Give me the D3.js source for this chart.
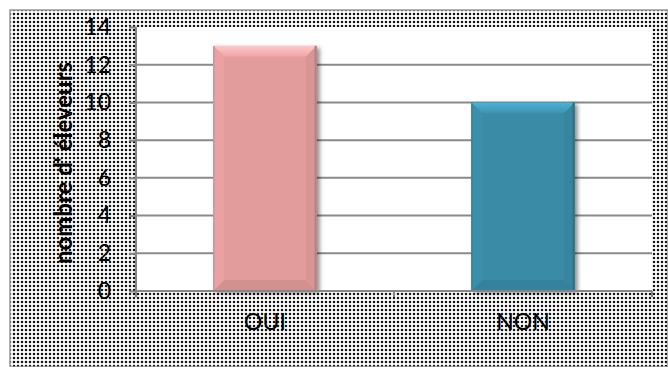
<!DOCTYPE html>
<html>
<head>
<meta charset="utf-8">
<script src="https://cdn.jsdelivr.net/npm/d3@7"></script>
<style>
  body { margin: 0; background: #fff; }
  svg { display: block; }
  text { font-family: Lato, "Liberation Sans", sans-serif; fill: #000; }
</style>
</head>
<body>
<div id="chart"></div>
<script>
// data
var categories = ["OUI", "NON"];
var values = [13, 10];
var barColors = ["#e29c9c", "#3a8ba6"];
var yTicks = [0, 2, 4, 6, 8, 10, 12, 14];
var yTitle = "nombre d' éleveurs";

var W = 668, H = 367;
var plot = { left: 136, top: 27, right: 652, bottom: 291 };

var svg = d3.select("#chart")
    .append("svg")
    .attr("width", W)
    .attr("height", H);

var defs = svg.append("defs");

// dotted background pattern
var pat = defs.append("pattern")
    .attr("id", "dots")
    .attr("patternUnits", "userSpaceOnUse")
    .attr("width", 4)
    .attr("height", 4);
pat.append("rect").attr("width", 4).attr("height", 4).attr("fill", "#fff");
pat.append("rect").attr("x", 0).attr("y", 1).attr("width", 4).attr("height", 2).attr("fill", "#e2e2e2");
pat.append("rect").attr("x", 1).attr("y", 0).attr("width", 2).attr("height", 4).attr("fill", "#e2e2e2");
pat.append("rect").attr("x", 1).attr("y", 1).attr("width", 2).attr("height", 2).attr("fill", "#151515");

var shadow = defs.append("filter")
    .attr("id", "shadow")
    .attr("x", "-20%").attr("y", "-20%")
    .attr("width", "140%").attr("height", "140%");
shadow.append("feDropShadow")
    .attr("dx", 3).attr("dy", 2)
    .attr("stdDeviation", 2)
    .attr("flood-color", "#000")
    .attr("flood-opacity", 0.45);

// chart area
svg.append("rect")
    .attr("x", 10).attr("y", 10)
    .attr("width", W - 10).attr("height", H - 10)
    .attr("fill", "url(#dots)")
    .attr("stroke", "#9a9a9a")
    .attr("stroke-width", 1.5);

svg.append("rect")
    .attr("x", plot.left).attr("y", plot.top)
    .attr("width", plot.right - plot.left)
    .attr("height", plot.bottom - plot.top)
    .attr("fill", "#fff");

// scales
var xScale = d3.scaleBand()
    .domain(categories)
    .range([plot.left, plot.right])
    .paddingInner(0.6)
    .paddingOuter(0.3);

var yScale = d3.scaleLinear()
    .domain([0, 14])
    .range([plot.bottom, plot.top]);

// gridlines
svg.append("g")
    .selectAll("line")
    .data(yTicks.filter(function (d) { return d > 0 && d < 14; }))
    .enter()
    .append("line")
    .attr("x1", plot.left).attr("x2", plot.right)
    .attr("y1", function (d) { return yScale(d); })
    .attr("y2", function (d) { return yScale(d); })
    .attr("stroke", "#8a8a8a")
    .attr("stroke-width", 2);

// bars with bevel
var bars = svg.append("g")
    .selectAll("g")
    .data(values)
    .enter()
    .append("g");

bars.each(function (d, i) {
    var g = d3.select(this);
    var x0 = xScale(categories[i]), x1 = x0 + xScale.bandwidth();
    var y0 = yScale(d), y1 = yScale(0);
    var b = 11;
    var base = d3.color(barColors[i]);

    g.append("rect")
        .attr("x", x0).attr("y", y0)
        .attr("width", x1 - x0).attr("height", y1 - y0)
        .attr("fill", base.formatHex())
        .attr("filter", "url(#shadow)");

    var gid = "topgrad" + i;
    var grad = defs.append("linearGradient")
        .attr("id", gid)
        .attr("x1", 0).attr("y1", 0).attr("x2", 0).attr("y2", 1);
    grad.append("stop").attr("offset", 0).attr("stop-color", base.brighter(0.7).formatHex());
    grad.append("stop").attr("offset", 1).attr("stop-color", base.brighter(0.15).formatHex());

    var poly = function (pts, fill) {
        g.append("polygon")
            .attr("points", pts.map(function (p) { return p.join(","); }).join(" "))
            .attr("fill", fill);
    };
    // left and right sides
    poly([[x0, y0], [x0 + b, y0 + b], [x0 + b, y1 - b], [x0, y1]], base.brighter(0.08).formatHex());
    poly([[x1, y0], [x1 - b, y0 + b], [x1 - b, y1 - b], [x1, y1]], base.darker(0.12).formatHex());
    // bottom
    poly([[x0, y1], [x0 + b, y1 - b], [x1 - b, y1 - b], [x1, y1]], base.darker(0.2).formatHex());
    // top
    poly([[x0, y0], [x1, y0], [x1 - b, y0 + b], [x0 + b, y0 + b]], "url(#" + gid + ")");
    // inner face
    g.append("rect")
        .attr("x", x0 + b).attr("y", y0 + b)
        .attr("width", x1 - x0 - 2 * b).attr("height", Math.max(0, y1 - y0 - 2 * b))
        .attr("fill", base.formatHex());
    // dark edges
    g.append("line").attr("x1", x1 - 1).attr("x2", x1 - 1).attr("y1", y0).attr("y2", y1)
        .attr("stroke", base.darker(0.6).formatHex()).attr("stroke-width", 2);
    g.append("line").attr("x1", x0 + 0.5).attr("x2", x0 + 0.5).attr("y1", y0).attr("y2", y1)
        .attr("stroke", base.darker(0.35).formatHex()).attr("stroke-width", 1);
});

// y axis
var yAxis = svg.append("g")
    .attr("transform", "translate(" + plot.left + ",0)")
    .call(d3.axisLeft(yScale).tickValues(yTicks).tickSize(7).tickPadding(18).tickSizeOuter(0));
yAxis.select(".domain").attr("stroke", "#868686").attr("stroke-width", 2)
    .attr("d", "M0," + plot.top + "V" + (plot.bottom + 6));
yAxis.selectAll(".tick line").attr("stroke", "#868686").attr("stroke-width", 2);
yAxis.selectAll(".tick text")
    .style("font-family", "Lato, 'Liberation Sans', sans-serif")
    .style("font-size", "23px")
    .attr("fill", "#000");

// x axis
var xAxis = svg.append("g")
    .attr("transform", "translate(0," + plot.bottom + ")")
    .call(d3.axisBottom(xScale).tickSize(0).tickPadding(23));
xAxis.select(".domain").attr("stroke", "#868686").attr("stroke-width", 2)
    .attr("d", "M" + plot.left + ",0H" + plot.right);
xAxis.selectAll(".tick text")
    .style("font-family", "Lato, 'Liberation Sans', sans-serif")
    .style("font-size", "23px")
    .attr("fill", "#000");

// category separators
var seps = [plot.left, (plot.left + plot.right) / 2, plot.right];
xAxis.selectAll(".sep")
    .data(seps)
    .enter()
    .append("line")
    .attr("class", "sep")
    .attr("x1", function (d) { return d; }).attr("x2", function (d) { return d; })
    .attr("y1", 0).attr("y2", 6)
    .attr("stroke", "#868686").attr("stroke-width", 2);

// axis title
svg.append("text")
    .attr("transform", "translate(64,163) rotate(-90)")
    .attr("text-anchor", "middle")
    .attr("dy", "0.35em")
    .style("font-size", "24px")
    .style("font-weight", "bold")
    .text(yTitle);
</script>
</body>
</html>
